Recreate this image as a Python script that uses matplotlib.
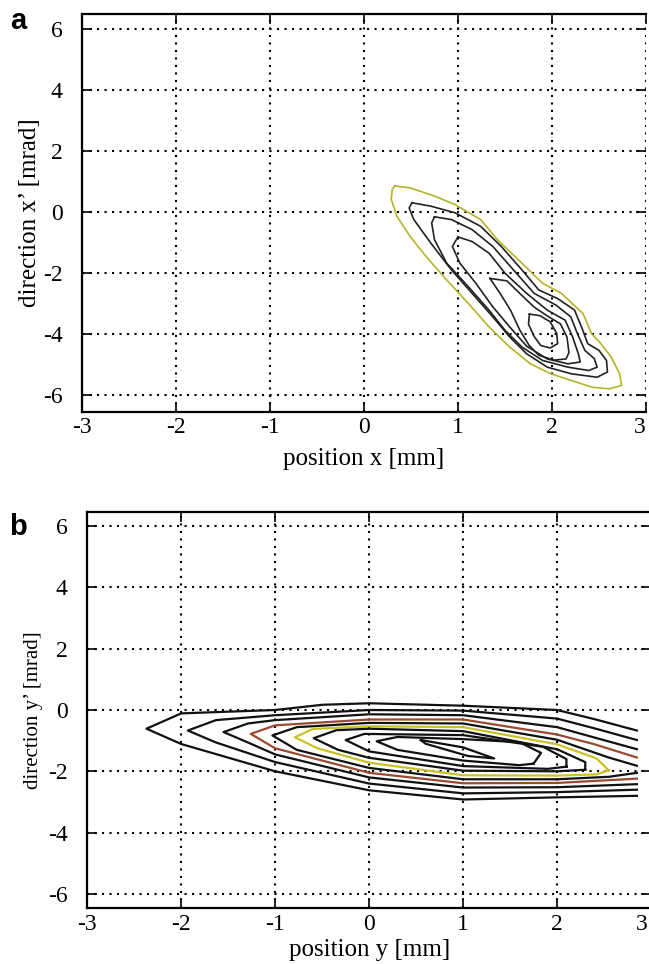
"""Phase-space contour plots of the beam (x-x' and y-y')"""
import matplotlib.pyplot as plt
from matplotlib.transforms import ScaledTranslation

plt.rcParams['font.family'] = ['Liberation Serif', 'DejaVu Serif']
plt.rcParams['axes.unicode_minus'] = False

X_TICKS = [-3, -2, -1, 0, 1, 2, 3]
Y_TICKS = [-6, -4, -2, 0, 2, 4, 6]

# panel a: contour lines, outermost first
A1_X = [0.33, 0.49, 0.75, 0.97, 1.24, 1.42, 1.68, 1.90, 2.10, 2.33, 2.42, 2.52, 2.63, 2.72,
        2.74, 2.61, 2.43, 2.21, 1.99, 1.77, 1.55, 1.33, 1.11, 0.88, 0.66, 0.49, 0.35, 0.29,
        0.30, 0.33]
A1_Y = [0.85, 0.79, 0.52, 0.24, -0.25, -0.91, -1.68, -2.34, -2.67, -3.33, -3.99, -4.32,
        -4.76, -5.31, -5.69, -5.80, -5.75, -5.53, -5.31, -4.98, -4.43, -3.77, -3.00, -2.23,
        -1.46, -0.80, -0.14, 0.41, 0.74, 0.85]
A2_X = [0.51, 0.71, 0.97, 1.24, 1.46, 1.68, 1.86, 2.06, 2.24, 2.32, 2.38, 2.50, 2.58, 2.59,
        2.48, 2.21, 1.95, 1.73, 1.55, 1.37, 1.15, 0.93, 0.71, 0.53, 0.48, 0.51]
A2_Y = [0.30, 0.19, -0.03, -0.47, -1.13, -1.90, -2.56, -2.84, -3.22, -3.82, -4.32, -4.54,
        -4.87, -5.25, -5.42, -5.31, -5.09, -4.65, -4.10, -3.44, -2.67, -1.90, -1.02, -0.25,
        0.13, 0.30]
A3_X = [0.75, 0.93, 1.15, 1.37, 1.59, 1.81, 2.04, 2.20, 2.27, 2.35, 2.45, 2.48, 2.39, 2.17,
        1.90, 1.68, 1.50, 1.33, 1.11, 0.88, 0.75, 0.72, 0.75]
A3_Y = [-0.16, -0.25, -0.58, -1.13, -1.90, -2.67, -3.05, -3.44, -3.99, -4.54, -4.81, -5.09,
        -5.20, -5.09, -4.87, -4.43, -3.88, -3.22, -2.45, -1.68, -0.91, -0.36, -0.16]
A4_X = [1.00, 1.15, 1.33, 1.50, 1.73, 1.95, 2.14, 2.22, 2.28, 2.30, 2.17, 1.95, 1.73, 1.55,
        1.37, 1.19, 1.02, 0.94, 1.00]
A4_Y = [-0.82, -0.97, -1.35, -2.01, -2.67, -3.22, -3.55, -4.10, -4.65, -4.92, -4.98, -4.82,
        -4.40, -3.77, -3.11, -2.34, -1.68, -1.13, -0.82]
A5_X = [1.34, 1.52, 1.66, 1.81, 1.97, 2.09, 2.16, 2.18, 2.15, 2.02, 1.86, 1.76, 1.66, 1.56,
        1.45, 1.34]
A5_Y = [-2.18, -2.26, -2.68, -3.12, -3.45, -3.67, -4.11, -4.61, -4.82, -4.86, -4.70, -4.39,
        -3.89, -3.23, -2.68, -2.18]
A6_X = [1.76, 1.87, 1.98, 2.05, 2.06, 1.98, 1.88, 1.81, 1.75, 1.76]
A6_Y = [-3.35, -3.40, -3.60, -3.98, -4.32, -4.46, -4.38, -4.08, -3.68, -3.35]

# panel b: contour lines (open at the right edge for the outer ones)
B1_X = [2.85, 2.40, 2.00, 1.00, 0.00, -0.50, -1.00, -2.00, -2.37, -2.00, -1.00, 0.00, 1.00,
        2.00, 2.85]
B1_Y = [-0.67, -0.30, 0.00, 0.14, 0.22, 0.17, 0.00, -0.11, -0.61, -1.11, -2.00, -2.62,
        -2.92, -2.85, -2.80]
B2_X = [2.85, 2.40, 2.00, 1.00, 0.00, -1.00, -1.63, -1.93, -1.63, -1.00, 0.00, 1.00, 2.00,
        2.85]
B2_Y = [-0.98, -0.60, -0.28, -0.02, 0.00, -0.17, -0.33, -0.67, -1.06, -1.70, -2.40, -2.72,
        -2.68, -2.60]
B3_X = [2.85, 2.40, 2.00, 1.00, 0.00, -1.00, -1.29, -1.55, -1.29, -1.00, 0.00, 1.00, 2.00,
        2.85]
B3_Y = [-1.28, -0.90, -0.56, -0.17, -0.14, -0.33, -0.44, -0.72, -1.06, -1.45, -2.20, -2.53,
        -2.52, -2.42]
B4_X = [2.85, 2.40, 2.00, 1.00, 0.00, -1.00, -1.26, -1.00, 0.00, 1.00, 2.00, 2.85]
B4_Y = [-1.55, -1.12, -0.80, -0.31, -0.31, -0.50, -0.78, -1.25, -2.05, -2.39, -2.38, -2.24]
B5_X = [2.85, 2.55, 2.00, 1.00, 0.00, -0.77, -1.03, -0.77, 0.00, 1.00, 2.00, 2.55, 2.85]
B5_Y = [-1.82, -1.55, -0.97, -0.44, -0.42, -0.56, -0.83, -1.30, -1.89, -2.26, -2.26, -2.18,
        -2.05]
B6_X = [2.55, 2.42, 2.00, 1.00, 0.00, -0.60, -0.79, -0.55, 0.00, 1.00, 2.00, 2.42, 2.55]
B6_Y = [-1.97, -1.58, -1.12, -0.56, -0.53, -0.62, -0.89, -1.25, -1.72, -2.13, -2.14, -2.10,
        -1.97]
B7_X = [2.30, 2.30, 2.00, 1.00, 0.00, -0.35, -0.59, -0.33, 0.00, 1.00, 2.00, 2.30]
B7_Y = [-1.95, -1.70, -1.28, -0.69, -0.61, -0.66, -0.92, -1.30, -1.56, -1.98, -2.00, -1.95]
B8_X = [2.10, 2.10, 1.85, 1.00, -0.05, -0.25, 0.00, 1.00, 1.90, 2.10]
B8_Y = [-1.85, -1.60, -1.20, -0.82, -0.78, -0.98, -1.35, -1.83, -1.92, -1.85]
B9_X = [1.75, 1.83, 1.60, 1.00, 0.30, 0.08, 0.30, 1.00, 1.60, 1.75]
B9_Y = [-1.75, -1.40, -1.05, -0.95, -0.88, -1.02, -1.30, -1.65, -1.80, -1.75]
B10_X = [0.55, 1.00, 1.33, 1.05, 0.60, 0.55]
B10_Y = [-0.98, -1.22, -1.58, -1.50, -1.10, -0.98]

CONTOURS_A = [(A1_X, A1_Y), (A2_X, A2_Y), (A3_X, A3_Y), (A4_X, A4_Y), (A5_X, A5_Y),
              (A6_X, A6_Y)]
COLORS_A = ['#b4b42a', '#222222', '#222222', '#222222', '#222222', '#222222']
CONTOURS_B = [(B1_X, B1_Y), (B2_X, B2_Y), (B3_X, B3_Y), (B4_X, B4_Y), (B5_X, B5_Y),
              (B6_X, B6_Y), (B7_X, B7_Y), (B8_X, B8_Y), (B9_X, B9_Y), (B10_X, B10_Y)]
COLORS_B = ['#111111', '#111111', '#111111', '#9a4a30', '#111111', '#c8c228', '#111111',
            '#111111', '#111111', '#111111']

W, H = 649, 964
fig = plt.figure(figsize=(W / 100, H / 100), dpi=100)
ax_a = fig.add_axes([82 / W, 1 - 411.7 / H, (646 - 82) / W, (411.7 - 14) / H])
ax_b = fig.add_axes([87.3 / W, 1 - 908.3 / H, (651 - 87.3) / W, (908.3 - 511.7) / H])


def style(ax, ylim, last_shift):
    ax.set_xlim(-3, 3)
    ax.set_ylim(*ylim)
    ax.set_xticks(X_TICKS)
    ax.set_yticks(Y_TICKS)
    ax.grid(True, color='k', linestyle=(0, (1, 2.6)), linewidth=1.5)
    ax.tick_params(direction='in', length=7, width=1.2, top=True, right=True,
                   labelsize=17)
    ax.tick_params(axis='y', pad=14)
    ax.tick_params(axis='x', pad=4)
    for side in ['left', 'bottom', 'top']:
        ax.spines[side].set_linewidth(1.6)
    ax.spines['right'].set_visible(False)
    # the "3" at the right edge sits just inside the picture
    last = ax.get_xticklabels()[-1]
    last.set_ha('right')
    last.set_transform(last.get_transform()
                       + ScaledTranslation(last_shift / 100, 0, fig.dpi_scale_trans))


style(ax_a, (-6.55, 6.49), 0)
for (xs, ys), c in zip(CONTOURS_A, COLORS_A):
    ax_a.plot(xs, ys, color=c, lw=1.2)
ax_a.set_xlabel('position x [mm]', fontsize=18, labelpad=7)
ax_a.set_ylabel('direction x\u2019 [mrad]', fontsize=18, labelpad=1)

style(ax_b, (-6.47, 6.47), -3)
for (xs, ys), c in zip(CONTOURS_B, COLORS_B):
    ax_b.plot(xs, ys, color=c, lw=1.6)
ax_b.set_xlabel('position y [mm]', fontsize=18, labelpad=3)
ax_b.set_ylabel('direction y\u2019 [mrad]', fontsize=15, labelpad=4)

fig.text(18 / W, 1 - 21 / H, 'a', family='Liberation Sans', weight='bold', fontsize=21,
         ha='center', va='center')
fig.text(18 / W, 1 - 527 / H, 'b', family='Liberation Sans', weight='bold', fontsize=21,
         ha='center', va='center')

fig.savefig('out.png', dpi=100)
